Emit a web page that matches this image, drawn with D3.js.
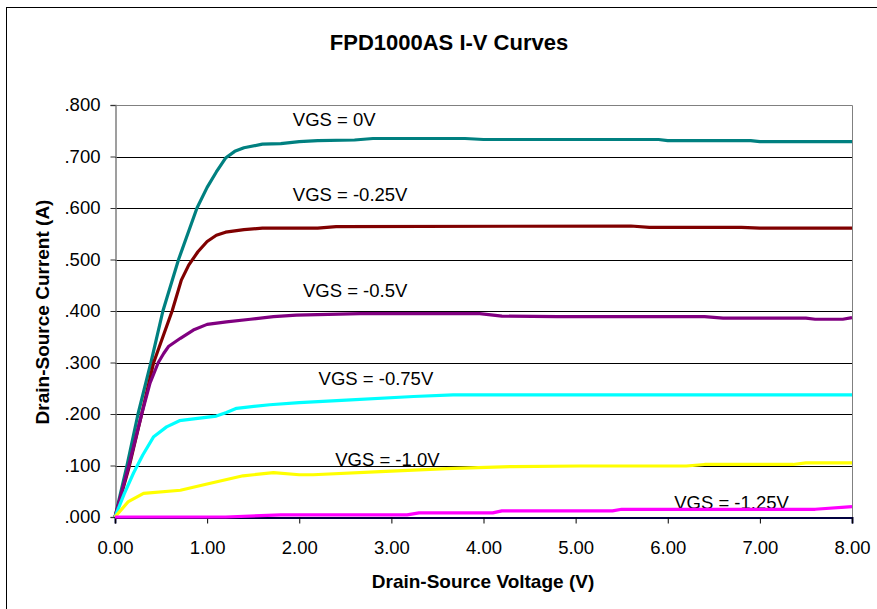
<html>
<script src="https://d3js.org/d3.v7.min.js"></script>
<style>
  body { margin: 0; background: #fff; }
  text { font-family: Arial, "Liberation Sans", sans-serif; }
</style>
<body>
<svg width="877" height="609"></svg>
<script>
// I-V data, [Vds (V), Ids (A)]
var vgs0 = [[0,0],[0.13,0.1],[0.25,0.2],[0.39,0.3],[0.52,0.4],[0.69,0.5],[0.89,0.6],[1.0,0.64],[1.1,0.67],[1.2,0.697],[1.3,0.71],[1.4,0.717],[1.6,0.724],[1.8,0.725],[2.0,0.729],[2.2,0.731],[2.6,0.732],[2.8,0.735],[3.8,0.735],[4.0,0.733],[5.9,0.733],[6.0,0.731],[6.9,0.731],[7.0,0.729],[8.0,0.729]];
var vgs025 = [[0,0],[0.15,0.095],[0.29,0.2],[0.42,0.3],[0.62,0.4],[0.72,0.46],[0.8,0.489],[0.9,0.515],[1.0,0.535],[1.1,0.547],[1.2,0.553],[1.4,0.558],[1.6,0.561],[2.2,0.561],[2.4,0.564],[5.6,0.565],[5.8,0.5625],[6.8,0.5625],[7.0,0.561],[8.0,0.561]];
var vgs05 = [[0,0],[0.15,0.1],[0.29,0.2],[0.38,0.26],[0.47,0.3],[0.53,0.318],[0.58,0.331],[0.71,0.347],[0.85,0.363],[1.0,0.374],[1.21,0.379],[1.47,0.384],[1.72,0.389],[1.97,0.392],[2.66,0.395],[3.96,0.395],[4.2,0.39],[4.8,0.389],[6.4,0.389],[6.6,0.386],[7.5,0.386],[7.6,0.384],[7.9,0.384],[8.0,0.387]];
var vgs075 = [[0,0],[0.1,0.045],[0.2,0.085],[0.3,0.12],[0.42,0.156],[0.56,0.175],[0.7,0.187],[0.92,0.192],[1.1,0.196],[1.21,0.203],[1.32,0.211],[1.68,0.218],[2.0,0.222],[2.51,0.227],[3.24,0.234],[3.67,0.237],[8.0,0.237]];
var vgs10 = [[0,0],[0.145,0.03],[0.31,0.046],[0.71,0.052],[1.0,0.064],[1.39,0.08],[1.72,0.086],[2.0,0.082],[2.15,0.082],[2.88,0.088],[3.6,0.094],[4.32,0.098],[5.05,0.099],[6.2,0.099],[6.4,0.102],[7.36,0.102],[7.5,0.105],[8.0,0.105]];
var vgs125 = [[0,0],[1.2,0],[1.8,0.004],[3.17,0.004],[3.3,0.008],[4.1,0.008],[4.2,0.012],[5.4,0.012],[5.5,0.015],[7.6,0.015],[8.0,0.02]];

var seriesData = [vgs0, vgs025, vgs05, vgs075, vgs10, vgs125];
var seriesNames = ["VGS = 0V", "VGS = -0.25V", "VGS = -0.5V", "VGS = -0.75V", "VGS = -1.0V", "VGS = -1.25V"];
var seriesColors = ["#008080", "#800000", "#800080", "#00FFFF", "#FFFF00", "#FF00FF"];
// where each curve's label sits, in data units [V, A]
var labelAt = [[1.93,0.759],[1.93,0.614],[2.04,0.427],[2.21,0.256],[2.39,0.1],[6.07,0.0165]];

var xTicks = [0,1,2,3,4,5,6,7,8];
var yTicks = [0,0.1,0.2,0.3,0.4,0.5,0.6,0.7,0.8];

var svg = d3.select("svg");

// outer chart frame
svg.append("rect").attr("x", 6.5).attr("y", 7.5).attr("width", 900).attr("height", 700)
   .attr("fill", "none").attr("stroke", "#000");

var x = d3.scaleLinear().domain([0, 8]).range([115, 852]);
var y = d3.scaleLinear().domain([0, 0.8]).range([517, 105]);

// gridlines
svg.append("g").selectAll("line").data(yTicks.filter(function(d){ return d > 0 && d < 0.8; }))
  .enter().append("line")
  .attr("x1", x(0)).attr("x2", x(8))
  .attr("y1", function(d){ return Math.round(y(d)) + 0.5; })
  .attr("y2", function(d){ return Math.round(y(d)) + 0.5; })
  .attr("stroke", "#000").attr("stroke-width", 1);

// plot border top / right
svg.append("path")
  .attr("d", "M" + x(0) + "," + (y(0.8) + 0.5) + "H" + (x(8) + 0.5) + "V" + y(0))
  .attr("fill", "none").attr("stroke", "#808080");

// axes
var yAxis = d3.axisLeft(y).tickValues(yTicks).tickSize(5).tickPadding(10)
  .tickFormat(function(d){ return d3.format(".3f")(d).replace(/^0/, ""); });
var gy = svg.append("g").attr("transform", "translate(" + (x(0) + 0.5) + ",0)").call(yAxis);
gy.select(".domain").attr("stroke", "#808080").attr("stroke-width", 1.5);
gy.selectAll(".tick line").attr("stroke", "#333");
gy.selectAll("text").attr("font-size", "18.5px").attr("fill", "#000");

var xAxis = d3.axisBottom(x).tickValues(xTicks).tickSize(6).tickPadding(17)
  .tickFormat(d3.format(".2f"));
var gx = svg.append("g").attr("transform", "translate(0," + (y(0) + 0.5) + ")").call(xAxis);
gx.select(".domain").attr("stroke", "#000040").attr("stroke-width", 2);
gx.selectAll(".tick line").attr("stroke", "#000");
gx.selectAll("text").attr("font-size", "18.5px").attr("fill", "#000");

// curve labels (under the lines, as in the picture)
svg.append("g").selectAll("text").data(seriesNames).enter().append("text")
  .attr("x", function(d, i){ return x(labelAt[i][0]); })
  .attr("y", function(d, i){ return y(labelAt[i][1]); })
  .attr("font-size", "18.5px").attr("fill", "#000")
  .text(function(d){ return d; });

// curves
var line = d3.line().x(function(d){ return x(d[0]); }).y(function(d){ return y(d[1]); });
svg.append("g").selectAll("path").data(seriesData).enter().append("path")
  .attr("d", line)
  .attr("fill", "none")
  .attr("stroke", function(d, i){ return seriesColors[i]; })
  .attr("stroke-width", 3.2)
  .attr("stroke-linejoin", "round");

// titles
svg.append("text").attr("x", 449).attr("y", 50).attr("text-anchor", "middle")
  .attr("font-size", "22px").attr("font-weight", "bold").text("FPD1000AS I-V Curves");
svg.append("text").attr("x", 483).attr("y", 588).attr("text-anchor", "middle")
  .attr("font-size", "19px").attr("font-weight", "bold").text("Drain-Source Voltage (V)");
svg.append("text").attr("transform", "translate(49,312) rotate(-90)").attr("text-anchor", "middle")
  .attr("font-size", "19px").attr("font-weight", "bold").text("Drain-Source Current (A)");
</script>
</body>
</html>
